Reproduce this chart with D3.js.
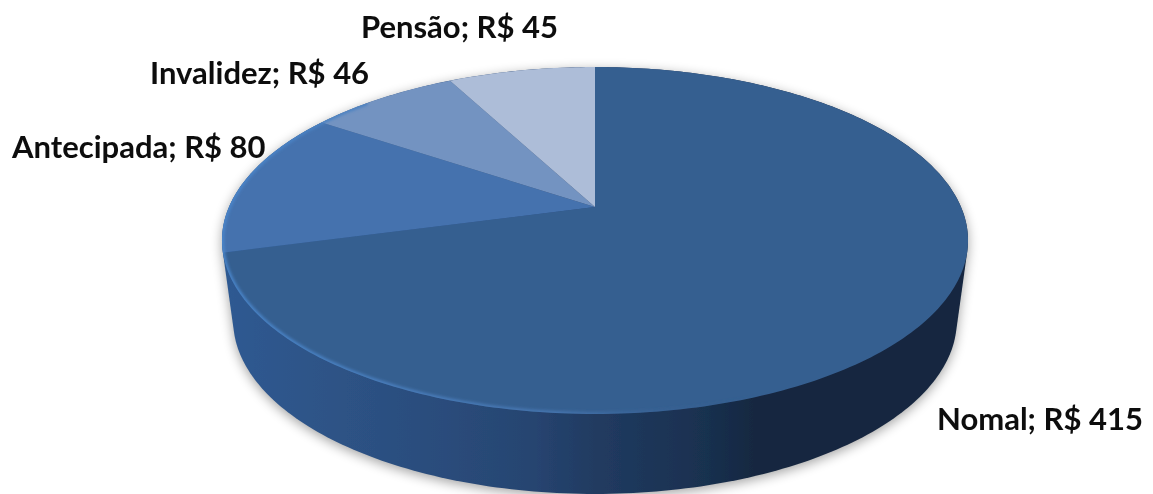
<!DOCTYPE html>
<html><head><meta charset="utf-8">
<script src="https://cdn.jsdelivr.net/npm/d3@7"></script>
<style>html,body{margin:0;padding:0;background:#fff;overflow:hidden}</style></head>
<body><svg id="c" width="1153" height="494"></svg>
<script>
(function(){
const categories = ["Nomal","Antecipada","Invalidez","Pensão"];
const values = [415,80,46,45];
const sliceColors = ["#365f90","#4472ae","#7393c1","#adbdd8"];
const labelX = [937,12,150,361];
const labelY = [430,158,84,38];

const svg=d3.select("#c");
const defs=svg.append("defs");
const cx=595,cy=207,A=366,B=167,p=0.193,depth=80,shrink=0.97;
function proj(t,r=1,dz=0,s=1){
  const X=r*Math.sin(t),Y=-r*Math.cos(t),w=1-p*Y;
  return [cx+s*A*X/w, cy+dz+B*Y/w];
}
const pie=d3.pie().sort(null).value(d=>d)(values);
const line=d3.line();
const step=Math.PI/180;
function ringPts(a0,a1,dz=0,s=1){
  return d3.range(a0,a1,step).concat([a1]).map(t=>proj(t,1,dz,s));
}
const TAU=2*Math.PI;

const g=defs.append("linearGradient").attr("id","wall").attr("gradientUnits","userSpaceOnUse")
 .attr("x1",222).attr("x2",968).attr("y1",0).attr("y2",0);
[[0,"#2f5a92"],[0.12,"#2e5488"],[0.3,"#2a4c7b"],[0.42,"#264470"],[0.5,"#213b61"],[0.65,"#19304f"],[0.72,"#15273f"],[1,"#14263f"]]
 .forEach(d=>g.append("stop").attr("offset",d[0]).attr("stop-color",d[1]));
const rimG=defs.append("linearGradient").attr("id","rim").attr("gradientUnits","userSpaceOnUse")
 .attr("x1",222).attr("x2",968).attr("y1",0).attr("y2",0);
[[0,"#4a86cc",1],[0.2,"#4a80c0",1],[0.45,"#4878b4",0.9],[0.6,"#3a6499",0.4],[0.72,"#365f90",0],[1,"#365f90",0]]
 .forEach(d=>rimG.append("stop").attr("offset",d[0]).attr("stop-color",d[1]).attr("stop-opacity",d[2]));

defs.append("filter").attr("id","sh").attr("x","-10%").attr("y","-10%").attr("width","120%").attr("height","130%")
 .append("feGaussianBlur").attr("stdDeviation",6);
defs.append("filter").attr("id","soft").attr("x","-5%").attr("y","-5%").attr("width","110%").attr("height","110%")
 .append("feGaussianBlur").attr("stdDeviation",1.6);
defs.append("filter").attr("id","edge").attr("x","-5%").attr("y","-5%").attr("width","110%").attr("height","110%")
 .append("feGaussianBlur").attr("stdDeviation",0.6);
defs.append("filter").attr("id","txt").attr("x","-5%").attr("y","-20%").attr("width","110%").attr("height","140%")
 .append("feGaussianBlur").attr("stdDeviation",0.35);
defs.append("clipPath").attr("id","topClip").append("path").attr("d",line(ringPts(0,TAU))+"Z");

const hull=d3.polygonHull(ringPts(0,TAU).concat(ringPts(0,TAU,depth,shrink)));
const wallD=line(hull)+"Z";

svg.append("path").attr("d",wallD).attr("fill","#000").attr("opacity",0.36)
  .attr("filter","url(#sh)").attr("transform","translate(0,3)");
svg.append("path").attr("d",wallD).attr("fill","url(#wall)").attr("filter","url(#edge)");

const topFace=svg.append("g").attr("filter","url(#edge)");
topFace.selectAll("path.slice").data(pie).join("path").attr("class","slice")
  .attr("d",d=>line([proj(0,0)].concat(ringPts(d.startAngle,d.endAngle)))+"Z")
  .attr("fill",(d,i)=>sliceColors[i]);

svg.append("g").attr("clip-path","url(#topClip)").append("path")
  .attr("d",line(ringPts(Math.PI*0.5,Math.PI*1.75)))
  .attr("fill","none").attr("stroke","url(#rim)").attr("stroke-width",4).attr("filter","url(#soft)");

svg.append("g").attr("filter","url(#txt)").selectAll("text").data(categories).join("text")
  .attr("x",(d,i)=>labelX[i]).attr("y",(d,i)=>labelY[i])
  .attr("font-family","Lato, 'Open Sans', sans-serif").attr("font-weight",700).attr("font-size",31)
  .attr("fill","#0d0d0d")
  .text((d,i)=>`${d}; R$ ${values[i]}`);
})();
</script></body></html>
